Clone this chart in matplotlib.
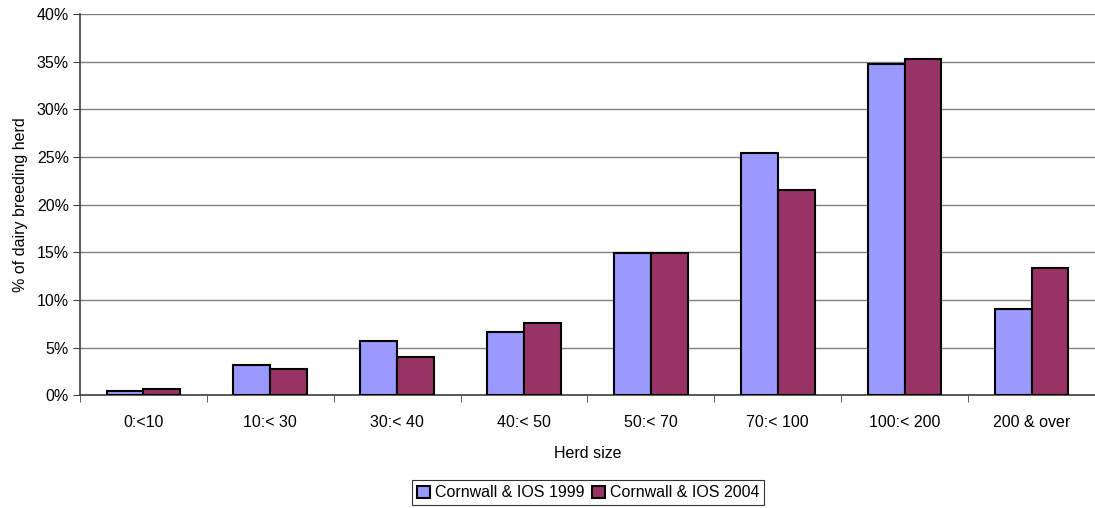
import matplotlib
matplotlib.use("Agg")
import matplotlib.pyplot as plt
import numpy as np
from matplotlib.ticker import FuncFormatter, FixedLocator

plt.rcParams['font.family'] = ['Liberation Sans', 'DejaVu Sans']

categories = ['0:<10', '10:< 30', '30:< 40', '40:< 50', '50:< 70', '70:< 100', '100:< 200', '200 & over']
herd_1999 = [0.4, 3.2, 5.7, 6.6, 14.9, 25.4, 34.8, 9.0]
herd_2004 = [0.7, 2.8, 4.0, 7.6, 14.9, 21.5, 35.3, 13.4]

fs = 11.5
fig = plt.figure(figsize=(10.95, 5.08), dpi=100)
ax = fig.add_axes([0.073, 0.222, 0.927, 0.750])

x = np.arange(len(categories))
w = 0.29
ax.bar(x - w / 2, herd_1999, w, color='#9999ff', edgecolor='black', linewidth=1.5,
       label='Cornwall & IOS 1999', zorder=3)
ax.bar(x + w / 2, herd_2004, w, color='#993366', edgecolor='black', linewidth=1.5,
       label='Cornwall & IOS 2004', zorder=3)

ax.set_xlim(-0.5, len(categories) - 0.5)
ax.set_ylim(0, 40)
ax.set_yticks(np.arange(0, 41, 5))
ax.yaxis.set_major_formatter(FuncFormatter(lambda v, p: '%d%%' % v))
ax.grid(axis='y', color='#808080', linewidth=1, zorder=0)

ax.set_xticks(x)
ax.set_xticklabels(categories, fontsize=fs)
ax.xaxis.set_minor_locator(FixedLocator(np.arange(-0.5, len(categories), 1)))
ax.tick_params(axis='x', which='major', length=0, pad=14)
ax.tick_params(axis='x', which='minor', length=5, color='#404040')
ax.tick_params(axis='y', length=5, color='#404040', labelsize=fs, pad=3)

for s in ['top', 'right']:
    ax.spines[s].set_visible(False)
for s in ['left', 'bottom']:
    ax.spines[s].set_color('#404040')
    ax.spines[s].set_linewidth(1.2)

ax.set_xlabel('Herd size', fontsize=fs, labelpad=12)
ax.set_ylabel('% of dairy breeding herd', fontsize=fs, labelpad=6)

leg = fig.legend(loc='center', bbox_to_anchor=(0.537, 0.03), ncol=2, fontsize=fs,
                 frameon=True, fancybox=False, edgecolor='black', handlelength=0.8,
                 handleheight=0.8, handletextpad=0.3, columnspacing=0.5,
                 borderpad=0.3)
leg.get_frame().set_linewidth(0.8)

fig.savefig('out.png', dpi=100)
